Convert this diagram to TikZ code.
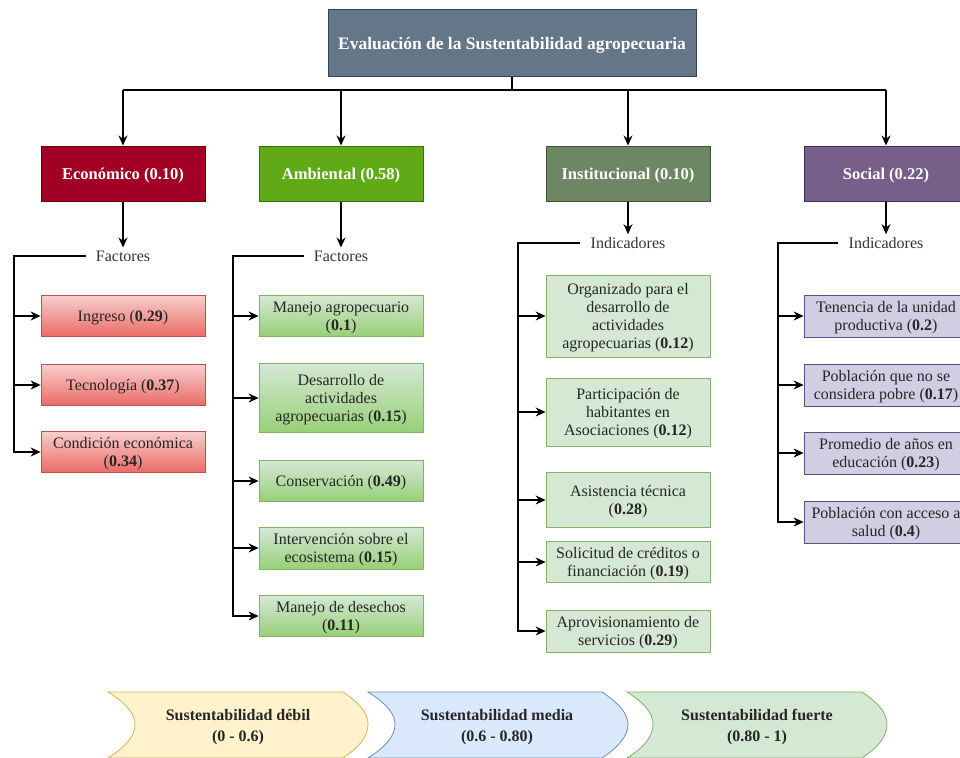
\documentclass[tikz,border=0pt]{standalone}
\usepackage{fontspec}
\setmainfont{Liberation Serif}
\usetikzlibrary{arrows.meta}

\definecolor{evalfill}{HTML}{647687}
\definecolor{evalline}{HTML}{314354}
\definecolor{ecofill}{HTML}{A20025}
\definecolor{ecoline}{HTML}{6F0000}
\definecolor{ambfill}{HTML}{60A917}
\definecolor{ambline}{HTML}{2D7600}
\definecolor{instfill}{HTML}{6D8764}
\definecolor{instline}{HTML}{3A5431}
\definecolor{socfill}{HTML}{76608A}
\definecolor{socline}{HTML}{432D57}
\definecolor{redtop}{HTML}{F8CECC}
\definecolor{redbot}{HTML}{EA6B66}
\definecolor{redline}{HTML}{B85450}
\definecolor{grntop}{HTML}{D5E8D4}
\definecolor{grnbot}{HTML}{97D077}
\definecolor{grnline}{HTML}{82B366}
\definecolor{purfill}{HTML}{D0CEE2}
\definecolor{purline}{HTML}{56517E}
\definecolor{yelfill}{HTML}{FFF2CC}
\definecolor{yelline}{HTML}{D6B656}
\definecolor{blufill}{HTML}{DAE8FC}
\definecolor{bluline}{HTML}{6C8EBF}

\begin{document}
\begin{tikzpicture}[x=1pt,y=-1pt,
    every node/.style={font=\fontsize{16}{18}\selectfont,text=black!85},
    mainbox/.style={draw=evalline,fill=evalfill,line width=1pt,minimum width=368,minimum height=67,
        text depth=0pt,text=white,font=\fontsize{17.5}{20}\selectfont\bfseries},
    catbox/.style={line width=1pt,minimum width=164,minimum height=55,text depth=0pt,
        text=white,font=\fontsize{16.5}{19}\selectfont\bfseries},
    itembox/.style={line width=0.8pt,minimum width=164,align=center,inner sep=1pt,text depth=0pt},
    redbox/.style={itembox,draw=redline,top color=redtop,bottom color=redbot},
    grnbox/.style={itembox,draw=grnline,top color=grntop,bottom color=grnbot},
    lgrnbox/.style={itembox,draw=grnline,fill=grntop},
    purbox/.style={itembox,draw=purline,fill=purfill},
    grouplabel/.style={inner xsep=10pt,inner ysep=3pt,text=black!80},
    line/.style={line width=1.2pt},
    link/.style={line,-{Stealth[length=10pt,width=9pt]}},
    rangetext/.style={align=center,font=\fontsize{16}{21}\selectfont\bfseries}]
    \useasboundingbox(0,0)rectangle(960,757);
    \clip(0,0)rectangle(960,757);

    % top and the four dimensions
    \node[mainbox](eval)at(512,43.5){Evaluación de la Sustentabilidad agropecuaria};
    \node[catbox,fill=ecofill,draw=ecoline](eco)at(123,173.5){Económico (0.10)};
    \node[catbox,fill=ambfill,draw=ambline](amb)at(341,173.5){Ambiental (0.58)};
    \node[catbox,fill=instfill,draw=instline](inst)at(628,173.5){Institucional (0.10)};
    \node[catbox,fill=socfill,draw=socline](soc)at(886,173.5){Social (0.22)};

    \coordinate(bar)at(512,90);
    \draw[line](eval.south)--(bar);
    \draw[line](eco.north|-bar)--(soc.north|-bar);
    \foreach \d in {eco,amb,inst,soc}
        \draw[link](\d.north|-bar)--(\d.north);

    % group labels
    \node[grouplabel](ecolab)at(123,256){Factores};
    \node[grouplabel](amblab)at(341,256){Factores};
    \node[grouplabel](instlab)at(628,243){Indicadores};
    \node[grouplabel](soclab)at(886,243){Indicadores};
    \foreach \d in {eco,amb,inst,soc}
        \draw[link](\d.south)--(\d lab.north);

    % Economico
    \node[redbox,minimum height=41](eco1)at(123,316){Ingreso (\textbf{0.29})};
    \node[redbox,minimum height=41](eco2)at(123,385){Tecnología (\textbf{0.37})};
    \node[redbox,minimum height=41](eco3)at(123,452){Condición económica\\(\textbf{0.34})};

    % Ambiental
    \node[grnbox,minimum height=41](amb1)at(341,316){Manejo agropecuario\\(\textbf{0.1})};
    \node[grnbox,minimum height=69](amb2)at(341,398){Desarrollo de\\actividades\\agropecuarias (\textbf{0.15})};
    \node[grnbox,minimum height=41](amb3)at(341,481){Conservación (\textbf{0.49})};
    \node[grnbox,minimum height=42](amb4)at(341,548){Intervención sobre el\\ecosistema (\textbf{0.15})};
    \node[grnbox,minimum height=41](amb5)at(341,616){Manejo de desechos\\(\textbf{0.11})};

    % Institucional
    \node[lgrnbox,minimum height=82](inst1)at(628,316){Organizado para el\\desarrollo de\\actividades\\agropecuarias (\textbf{0.12})};
    \node[lgrnbox,minimum height=68](inst2)at(628,412){Participación de\\habitantes en\\Asociaciones (\textbf{0.12})};
    \node[lgrnbox,minimum height=55](inst3)at(628,500){Asistencia técnica\\(\textbf{0.28})};
    \node[lgrnbox,minimum height=41](inst4)at(628,562){Solicitud de créditos o\\financiación (\textbf{0.19})};
    \node[lgrnbox,minimum height=42](inst5)at(628,631){Aprovisionamiento de\\servicios (\textbf{0.29})};

    % Social
    \node[purbox,minimum height=42](soc1)at(886,316){Tenencia de la unidad\\productiva (\textbf{0.2})};
    \node[purbox,minimum height=42](soc2)at(886,385){Población que no se\\considera pobre (\textbf{0.17})};
    \node[purbox,minimum height=42](soc3)at(886,453){Promedio de años en\\educación (\textbf{0.23})};
    \node[purbox,minimum height=42](soc4)at(886,522){Población con acceso a\\salud (\textbf{0.4})};

    % brackets
    \coordinate(ecobar)at(14,256);
    \coordinate(ambbar)at(233,256);
    \coordinate(instbar)at(518,243);
    \coordinate(socbar)at(778,243);
    \draw[link](ecolab.west)--(ecobar)|-(eco3.west);
    \foreach \i in {1,2}
        \draw[link](ecobar|-eco\i.west)--(eco\i.west);
    \draw[link](amblab.west)--(ambbar)|-(amb5.west);
    \foreach \i in {1,...,4}
        \draw[link](ambbar|-amb\i.west)--(amb\i.west);
    \draw[link](instlab.west)--(instbar)|-(inst5.west);
    \foreach \i in {1,...,4}
        \draw[link](instbar|-inst\i.west)--(inst\i.west);
    \draw[link](soclab.west)--(socbar)|-(soc4.west);
    \foreach \i in {1,...,3}
        \draw[link](socbar|-soc\i.west)--(soc\i.west);

    % scale of sustainability
    \draw[line width=0.8pt,draw=yelline,fill=yelfill](108,692)--(343,692)
        ..controls(361,704)and(368,714)..(368,724.5)
        ..controls(368,735)and(361,746)..(343,758)--(108,758)
        ..controls(127,746)and(135,735)..(135,724.5)
        ..controls(135,714)and(127,704)..(108,692)--cycle;
    \draw[line width=0.8pt,draw=bluline,fill=blufill](368,692)--(602,692)
        ..controls(620,704)and(628,714)..(628,724.5)
        ..controls(628,735)and(620,746)..(602,758)--(368,758)
        ..controls(387,746)and(395,735)..(395,724.5)
        ..controls(395,714)and(387,704)..(368,692)--cycle;
    \draw[line width=0.8pt,draw=grnline,fill=grntop](627,692)--(862,692)
        ..controls(880,704)and(887,714)..(887,724.5)
        ..controls(887,735)and(880,746)..(862,758)--(627,758)
        ..controls(646,746)and(653,735)..(653,724.5)
        ..controls(653,714)and(646,704)..(627,692)--cycle;
    \node[rangetext](weak)at(238,727){Sustentabilidad débil\\(0 - 0.6)};
    \node[rangetext](medium)at(497,727){Sustentabilidad media\\(0.6 - 0.80)};
    \node[rangetext](strong)at(757,727){Sustentabilidad fuerte\\(0.80 - 1)};
\end{tikzpicture}
\end{document}
